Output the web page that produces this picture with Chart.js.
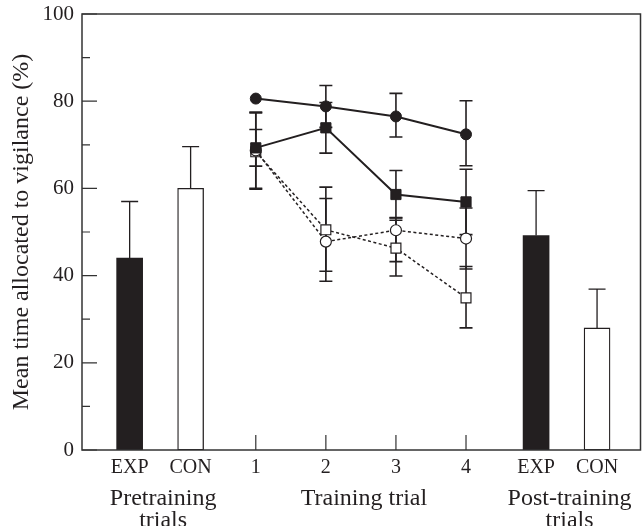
<!DOCTYPE html>
<html>
<head>
<meta charset="utf-8">
<title>Vigilance</title>
<script src="https://cdn.jsdelivr.net/npm/chart.js@4.4.1/dist/chart.umd.min.js"></script>
<style>
    html, body { margin: 0; padding: 0; background: #fff; }
    #wrap { width: 642px; height: 526px; }
</style>
</head>
<body>
<div id="wrap"><canvas id="vigChart" width="642" height="526"></canvas></div>
<script>
(function() {
    'use strict';

    // ---- data ----
    const categories = ['EXP', 'CON', '1', '2', '3', '4', 'EXP', 'CON'];
    const groupLabels = [['Pretraining', 'trials'], ['Training trial'], ['Post-training', 'trials']];
    const yTicks = [0, 20, 40, 60, 80, 100];

    // bars: [pretraining, post-training]
    const expMeans = [44.0, 49.2];
    const expUpper = [57.0, 59.5];
    const conMeans = [60.0, 28.0];
    const conUpper = [69.6, 36.9];

    // training trials 1-4
    const trials = [1, 2, 3, 4];
    const filledCircle = [80.6, 78.8, 76.5, 72.4];
    const filledCircleLow = [null, 74.0, 71.8, 65.2];
    const filledCircleHigh = [null, 83.6, 81.8, 80.1];
    const filledSquare = [69.3, 73.9, 58.6, 56.9];
    const filledSquareLow = [59.8, 68.1, 53.2, 49.4];
    const filledSquareHigh = [77.5, 79.7, 64.1, 64.4];
    const openCircle = [68.7, 47.8, 50.4, 48.5];
    const openCircleLow = [65.1, 38.7, 43.2, 41.5];
    const openCircleHigh = [73.5, 57.7, 53.3, 55.5];
    const openSquare = [68.4, 50.5, 46.3, 34.9];
    const openSquareLow = [60.0, 41.0, 39.9, 28.0];
    const openSquareHigh = [77.3, 60.3, 52.7, 42.1];

    // ---- layout ----
    // where each category label sits on the x scale (trial numbers are real values)
    const catPos = [-0.8, 0.07, 1, 2, 3, 4, 5.0, 5.87];
    const preIdx = [0, 1];
    const postIdx = [6, 7];
    const ink = '#231f20';
    const serif = "'Liberation Serif', 'Times New Roman', serif";

    function pts(xs, ys) {
        return ys.map((v, i) => ({ x: xs[i], y: v }));
    }

    const errorBars = {
        id: 'errorBars',
        beforeDatasetsDraw(chart) {
            const ctx = chart.ctx;
            const xs = chart.scales.x, ys = chart.scales.y;
            chart.data.datasets.forEach(ds => {
                if (!ds.errHigh) return;
                const cap = ds.capWidth / 2;
                ctx.save();
                ctx.strokeStyle = ink;
                ctx.lineWidth = ds.errWidth;
                ds.data.forEach((p, j) => {
                    const hi = ds.errHigh[j];
                    const lo = ds.errLow ? ds.errLow[j] : p.y;
                    if (hi == null) return;
                    const px = xs.getPixelForValue(p.x);
                    const yh = ys.getPixelForValue(hi);
                    const yl = ys.getPixelForValue(lo);
                    ctx.beginPath();
                    ctx.moveTo(px, yl);
                    ctx.lineTo(px, yh);
                    ctx.moveTo(px - cap, yh);
                    ctx.lineTo(px + cap, yh);
                    if (ds.errLow) {
                        ctx.moveTo(px - cap, yl);
                        ctx.lineTo(px + cap, yl);
                    }
                    ctx.stroke();
                });
                ctx.restore();
            });
        }
    };

    const frame = {
        id: 'frame',
        afterDatasetsDraw(chart) {
            const ctx = chart.ctx;
            const a = chart.chartArea;
            const xs = chart.scales.x, ys = chart.scales.y;
            ctx.save();
            ctx.strokeStyle = '#333';
            ctx.lineWidth = 1.5;
            ctx.strokeRect(a.left, a.top, a.right - a.left, a.bottom - a.top);
            ctx.lineWidth = 1.2;
            ctx.beginPath();
            // inward ticks on the y axis, long at labelled values
            for (let v = 0; v <= 100; v += 10) {
                const py = ys.getPixelForValue(v);
                const len = yTicks.includes(v) ? 15 : 8;
                ctx.moveTo(a.left, py);
                ctx.lineTo(a.left + len, py);
            }
            // inward ticks for the training trials
            trials.forEach(t => {
                const px = xs.getPixelForValue(t);
                ctx.moveTo(px, a.bottom);
                ctx.lineTo(px, a.bottom - 15);
            });
            ctx.stroke();
            ctx.restore();
        },
        afterDraw(chart) {
            const ctx = chart.ctx;
            const xs = chart.scales.x;
            const groups = [preIdx, [2, 3, 4, 5], postIdx];
            ctx.save();
            ctx.fillStyle = ink;
            ctx.font = '24px ' + serif;
            ctx.textAlign = 'center';
            ctx.textBaseline = 'alphabetic';
            groups.forEach((idx, g) => {
                const first = xs.getPixelForValue(catPos[idx[0]]);
                const last = xs.getPixelForValue(catPos[idx[idx.length - 1]]);
                const cx = (first + last) / 2 + 3;
                groupLabels[g].forEach((line, k) => {
                    ctx.fillText(line, cx, 505 + k * 22);
                });
            });
            ctx.restore();
        }
    };

    const ctx = document.getElementById('vigChart').getContext('2d');

    new Chart(ctx, {
        data: {
            datasets: [
                {
                    type: 'line',
                    label: 'Filled circles',
                    data: pts(trials, filledCircle),
                    errLow: filledCircleLow,
                    errHigh: filledCircleHigh,
                    capWidth: 13,
                    errWidth: 1.6,
                    borderColor: ink,
                    borderWidth: 2,
                    pointStyle: 'circle',
                    pointRadius: 5.5,
                    pointBackgroundColor: ink,
                    pointBorderColor: ink,
                    pointBorderWidth: 1
                },
                {
                    type: 'line',
                    label: 'Filled squares',
                    data: pts(trials, filledSquare),
                    errLow: filledSquareLow,
                    errHigh: filledSquareHigh,
                    capWidth: 13,
                    errWidth: 1.6,
                    borderColor: ink,
                    borderWidth: 2,
                    pointStyle: 'rect',
                    pointRadius: 7.2,
                    pointBackgroundColor: ink,
                    pointBorderColor: ink,
                    pointBorderWidth: 1
                },
                {
                    type: 'line',
                    label: 'Open circles',
                    data: pts(trials, openCircle),
                    errLow: openCircleLow,
                    errHigh: openCircleHigh,
                    capWidth: 13,
                    errWidth: 1.6,
                    borderColor: ink,
                    borderWidth: 1.5,
                    borderDash: [3, 2.5],
                    pointStyle: 'circle',
                    pointRadius: 5.5,
                    pointBackgroundColor: '#fff',
                    pointBorderColor: ink,
                    pointBorderWidth: 1.2
                },
                {
                    type: 'line',
                    label: 'Open squares',
                    data: pts(trials, openSquare),
                    errLow: openSquareLow,
                    errHigh: openSquareHigh,
                    capWidth: 13,
                    errWidth: 1.6,
                    borderColor: ink,
                    borderWidth: 1.5,
                    borderDash: [3, 2.5],
                    pointStyle: 'rect',
                    pointRadius: 7,
                    pointBackgroundColor: '#fff',
                    pointBorderColor: ink,
                    pointBorderWidth: 1.2
                },
                {
                    type: 'bar',
                    label: 'EXP',
                    data: pts([catPos[preIdx[0]], catPos[postIdx[0]]], expMeans),
                    errHigh: expUpper,
                    capWidth: 17,
                    errWidth: 1.3,
                    backgroundColor: ink,
                    borderWidth: 0,
                    barThickness: 26,
                    grouped: false
                },
                {
                    type: 'bar',
                    label: 'CON',
                    data: pts([catPos[preIdx[1]], catPos[postIdx[1]]], conMeans),
                    errHigh: conUpper,
                    capWidth: 17,
                    errWidth: 1.3,
                    backgroundColor: '#fff',
                    borderColor: ink,
                    borderWidth: 1.3,
                    borderSkipped: false,
                    barThickness: 26,
                    grouped: false
                }
            ]
        },
        options: {
            responsive: false,
            animation: false,
            layout: {
                autoPadding: false,
                padding: { top: 14, right: 1.5, left: 0, bottom: 0 }
            },
            plugins: {
                legend: { display: false },
                tooltip: { enabled: false }
            },
            scales: {
                x: {
                    type: 'linear',
                    offset: false,
                    min: -1.48,
                    max: 6.49,
                    grid: { display: false, drawTicks: false },
                    border: { display: false },
                    afterBuildTicks: function(scale) {
                        scale.ticks = catPos.map(v => ({ value: v }));
                    },
                    afterFit: function(scale) {
                        scale.height = 76;
                        scale.paddingLeft = 0;
                        scale.paddingRight = 0;
                    },
                    ticks: {
                        autoSkip: false,
                        maxRotation: 0,
                        padding: 6,
                        color: ink,
                        font: { family: serif, size: 20 },
                        callback: function(value, index) {
                            return categories[index];
                        }
                    }
                },
                y: {
                    type: 'linear',
                    min: 0,
                    max: 100,
                    grid: { display: false, drawTicks: false },
                    border: { display: false },
                    afterBuildTicks: function(scale) {
                        scale.ticks = yTicks.map(v => ({ value: v }));
                    },
                    afterFit: function(scale) {
                        scale.width = 82;
                        scale.paddingTop = 0;
                        scale.paddingBottom = 0;
                    },
                    ticks: {
                        padding: 8,
                        color: ink,
                        font: { family: serif, size: 21 }
                    },
                    title: {
                        display: true,
                        text: 'Mean time allocated to vigilance (%)',
                        color: ink,
                        font: { family: serif, size: 24 },
                        padding: { top: 7, bottom: 0 }
                    }
                }
            }
        },
        plugins: [errorBars, frame]
    });
})();
</script>
</body>
</html>
